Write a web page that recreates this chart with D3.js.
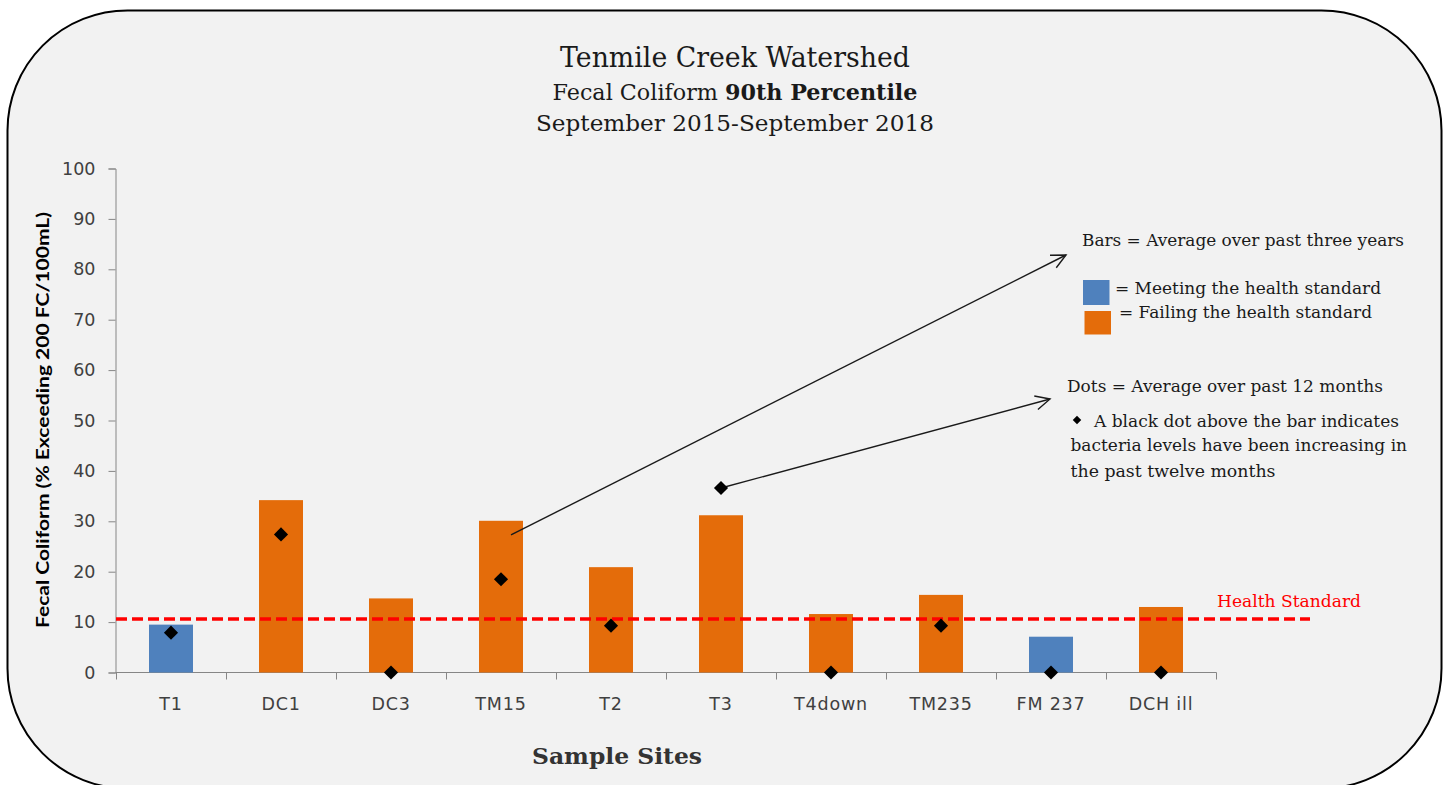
<!DOCTYPE html>
<html>
<head>
<meta charset="utf-8">
<script src="https://cdn.jsdelivr.net/npm/d3@7/dist/d3.min.js"></script>
<style>
  html, body { margin: 0; padding: 0; background: #ffffff; overflow: hidden; }
  svg { display: block; }
</style>
</head>
<body>
<svg id="chart" width="1449" height="785"></svg>
<script>
// ---------------- DATA ----------------
const sites = ["T1", "DC1", "DC3", "TM15", "T2", "T3", "T4down", "TM235", "FM 237", "DCH ill"];
const barValues = [9.5, 34.2, 14.7, 30.1, 20.9, 31.2, 11.6, 15.4, 7.1, 13.0];   // average over past three years
const dotValues = [7.9, 27.4, 0, 18.5, 9.3, 36.6, 0, 9.3, 0, 0];               // average over past 12 months
const healthStandard = 10.6;
const yTicks = [0, 10, 20, 30, 40, 50, 60, 70, 80, 90, 100];

const titleLines = ["Tenmile Creek Watershed", "Fecal Coliform ", "September 2015-September 2018"];
const yAxisTitle = "Fecal Coliform (% Exceeding 200 FC/100mL)";
const xAxisTitle = "Sample Sites";
const legendLines = [
  "Bars = Average over past three years",
  "= Meeting the health standard",
  "= Failing the health standard",
  "Dots = Average over past 12 months",
  "A black dot above the bar indicates",
  "bacteria levels have been increasing in",
  "the past twelve months"
];

// ---------------- LAYOUT ----------------
const colMeet = "#4f81bd", colFail = "#e46c0a";
const svg = d3.select("#chart");

// rounded panel (bottom edge runs just off the canvas)
svg.append("rect")
  .attr("x", 7.5).attr("y", 10.5).attr("width", 1434).attr("height", 778)
  .attr("rx", 120).attr("ry", 120)
  .attr("fill", "#f2f2f2").attr("stroke", "#000").attr("stroke-width", 2);

const x = d3.scaleBand().domain(sites).range([116, 1216]).paddingInner(0.6).paddingOuter(0.3);
const y = d3.scaleLinear().domain([0, 100]).range([672.5, 168.5]);

// title
const serif = "'DejaVu Serif', 'Liberation Serif', serif";
svg.append("text").attr("x", 735).attr("y", 67).attr("text-anchor", "middle")
  .attr("font-family", serif).attr("font-size", 27).attr("fill", "#1a1a1a")
  .attr("textLength", 350).attr("lengthAdjust", "spacingAndGlyphs")
  .text(titleLines[0]);
const t2 = svg.append("text").attr("x", 735).attr("y", 100).attr("text-anchor", "middle")
  .attr("font-family", serif).attr("font-size", 21.5).attr("fill", "#1a1a1a")
  .attr("textLength", 365).attr("lengthAdjust", "spacingAndGlyphs");
t2.append("tspan").text(titleLines[1]);
t2.append("tspan").attr("font-weight", "bold").text("90th Percentile");
svg.append("text").attr("x", 735).attr("y", 131).attr("text-anchor", "middle")
  .attr("font-family", serif).attr("font-size", 21.5).attr("fill", "#1a1a1a")
  .attr("textLength", 398).attr("lengthAdjust", "spacingAndGlyphs")
  .text(titleLines[2]);

// y axis
const yAxis = svg.append("g").attr("transform", "translate(115.5,0)")
  .call(d3.axisLeft(y).tickValues(yTicks).tickSize(7).tickPadding(13).tickFormat(d3.format("d")));
yAxis.select(".domain").attr("stroke", "#868686");
yAxis.selectAll(".tick line").attr("stroke", "#868686");
yAxis.selectAll(".tick text").attr("font-family", "'DejaVu Sans', Verdana, sans-serif")
  .attr("font-size", 17.5).attr("fill", "#404040");

// x axis (category ticks between bands)
const step = x.step();
const boundaries = d3.range(sites.length + 1).map(i => x.range()[0] + i * step);
const xAxisG = svg.append("g");
xAxisG.append("line").attr("x1", 115.5).attr("x2", x.range()[1] + 0.5)
  .attr("y1", y(0)).attr("y2", y(0)).attr("stroke", "#868686");
xAxisG.selectAll("line.tk").data(boundaries).join("line").attr("class", "tk")
  .attr("x1", d => Math.round(d) + 0.5).attr("x2", d => Math.round(d) + 0.5)
  .attr("y1", y(0)).attr("y2", y(0) + 7).attr("stroke", "#868686");
xAxisG.selectAll("text").data(sites).join("text")
  .attr("x", d => x(d) + x.bandwidth() / 2).attr("y", 710)
  .attr("text-anchor", "middle")
  .attr("font-family", "'DejaVu Sans', Verdana, sans-serif").attr("font-size", 17.5)
  .attr("letter-spacing", 0.8).attr("fill", "#404040")
  .text(d => d);

// bars
svg.append("g").selectAll("rect").data(sites).join("rect")
  .attr("x", d => x(d)).attr("width", x.bandwidth())
  .attr("y", (d, i) => y(barValues[i])).attr("height", (d, i) => y(0) - y(barValues[i]))
  .attr("fill", (d, i) => barValues[i] < healthStandard ? colMeet : colFail);

// health standard line
svg.append("line").attr("x1", 116).attr("x2", 1310)
  .attr("y1", y(healthStandard)).attr("y2", y(healthStandard))
  .attr("stroke", "#ff0000").attr("stroke-width", 3.5).attr("stroke-dasharray", "11,5");
svg.append("text").attr("x", 1217).attr("y", 607)
  .attr("font-family", serif).attr("font-size", 16.5).attr("fill", "#ff0000")
  .attr("textLength", 144).attr("lengthAdjust", "spacingAndGlyphs")
  .text("Health Standard");

// arrows
function arrow(x1, y1, x2, y2) {
  const g = svg.append("g").attr("stroke", "#1a1a1a").attr("stroke-width", 1.4).attr("fill", "none");
  g.append("line").attr("x1", x1).attr("y1", y1).attr("x2", x2).attr("y2", y2);
  const a = Math.atan2(y2 - y1, x2 - x1), L = 16, w = 0.45;
  g.append("path").attr("d",
    `M${x2 - L * Math.cos(a - w)},${y2 - L * Math.sin(a - w)} L${x2},${y2} L${x2 - L * Math.cos(a + w)},${y2 - L * Math.sin(a + w)}`);
}
arrow(x("TM15") + x.bandwidth() / 2 + 10, y(27.3), 1066, 255);
arrow(x("T3") + x.bandwidth() / 2, y(dotValues[5]), 1050, 399);

// dots (diamonds)
const diamond = d3.symbol().type(d3.symbolSquare).size(100);
svg.append("g").selectAll("path").data(sites).join("path")
  .attr("d", diamond)
  .attr("transform", (d, i) => `translate(${x(d) + x.bandwidth() / 2},${y(dotValues[i])}) rotate(45)`)
  .attr("fill", "#000");

// legend
const lg = svg.append("g").attr("font-family", serif).attr("font-size", 16).attr("fill", "#1a1a1a");
const legendPos = [
  [1082, 246, 322], [1115, 294, 266], [1119, 318, 253], [1067, 392, 316],
  [1094, 426.5, 305], [1070.5, 450.5, 336.5], [1070.5, 476.5, 205]
];
legendLines.forEach((s, i) => {
  const [lx, ly, lw] = legendPos[i];
  lg.append("text").attr("x", lx).attr("y", ly)
    .attr("textLength", lw).attr("lengthAdjust", "spacingAndGlyphs").text(s);
});
svg.append("rect").attr("x", 1083).attr("y", 280).attr("width", 26.5).attr("height", 25).attr("fill", colMeet);
svg.append("rect").attr("x", 1084.5).attr("y", 311).attr("width", 26.5).attr("height", 23.5).attr("fill", colFail);
svg.append("path").attr("d", d3.symbol().type(d3.symbolSquare).size(36))
  .attr("transform", "translate(1077,420) rotate(45)").attr("fill", "#000");

// axis titles
svg.append("text").attr("transform", "translate(49,420) rotate(-90)")
  .attr("text-anchor", "middle").attr("font-family", "Lato, 'Open Sans', sans-serif")
  .attr("font-weight", "bold").attr("font-size", 16.5).attr("fill", "#000")
  .attr("textLength", 416).attr("lengthAdjust", "spacingAndGlyphs")
  .text(yAxisTitle);
svg.append("text").attr("x", 617).attr("y", 764).attr("text-anchor", "middle")
  .attr("font-family", serif).attr("font-weight", "bold").attr("font-size", 23).attr("fill", "#333")
  .attr("textLength", 170).attr("lengthAdjust", "spacingAndGlyphs")
  .text(xAxisTitle);
</script>
</body>
</html>
